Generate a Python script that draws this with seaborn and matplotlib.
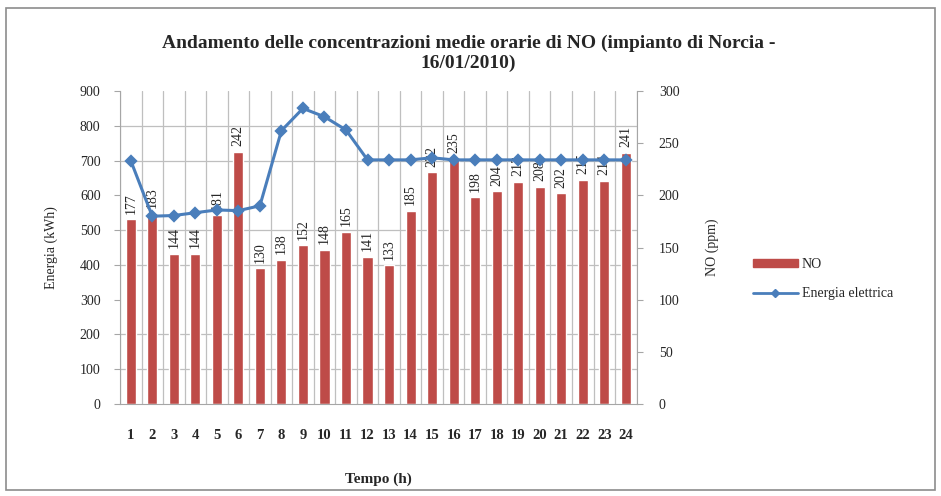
import matplotlib
matplotlib.use("Agg")
import matplotlib.pyplot as plt
import seaborn as sns
import numpy as np
import pandas as pd
from matplotlib.patches import Patch, Rectangle
from matplotlib.lines import Line2D

ore = [str(h) for h in range(1, 25)]
no_ppm = [177, 183, 144, 144, 181, 242, 130, 138, 152, 148, 165, 141,
          133, 185, 222, 235, 198, 204, 213, 208, 202, 215, 214, 241]
energia = [700, 540, 542, 550, 558, 556, 570, 786, 850, 826, 788, 702,
           702, 702, 708, 702, 702, 702, 702, 702, 702, 702, 702, 702]

df = pd.DataFrame({'ora': ore, 'NO': no_ppm, 'Energia': energia})

sns.set_style('white')
plt.rcParams['font.family'] = ['Liberation Serif', 'DejaVu Serif']

rosso = '#BE4B48'
blu = '#4A7EBB'
grigio = '#A6A6A6'

fig = plt.figure(figsize=(9.41, 4.96), dpi=100)
# cornice del grafico
fig.patches.append(Rectangle((0.006, 0.012), 0.988, 0.972, transform=fig.transFigure,
                             fill=False, edgecolor='#8C8C8C', linewidth=1.2))

ax = fig.add_axes([0.1275, 0.1855, 0.549, 0.631])
ax2 = ax.twinx()

# barre NO sull'asse destro
sns.barplot(data=df, x='ora', y='NO', color=rosso, width=0.47, saturation=1, ax=ax, zorder=2)
ax.set_ylim(0, 300)
ax.set_yticks(np.arange(0, 301, 50))
ax.set_yticks(np.arange(0, 301, 100 / 3), minor=True)
ax.set_xticks(np.arange(-0.5, 24, 1), minor=True)
ax.grid(which='minor', color='#BFBFBF', linewidth=0.9)
ax.grid(which='major', visible=False)
ax.set_axisbelow(True)
ax.set_xlim(-0.5, 23.5)
ax.set_xlabel('Tempo (h)', fontsize=11, fontweight='bold', labelpad=22)
ax.bar_label(ax.containers[0], labels=[str(v) for v in no_ppm], rotation=90,
             padding=4, fontsize=10)
ax.spines['top'].set_visible(False)
for s in ['left', 'right', 'bottom']:
    ax.spines[s].set_color(grigio)

# linea energia sull'asse sinistro
sns.pointplot(data=df, x='ora', y='Energia', color=blu, markers='D', markersize=5,
              linewidth=2.2, errorbar=None, ax=ax2)
ax2.set_ylim(0, 900)
ax2.set_xlim(-0.5, 23.5)
ax2.set_yticks(np.arange(0, 901, 100))
ax2.set_xlabel('')
for s in ax2.spines.values():
    s.set_visible(False)

# assi: NO a destra, energia a sinistra
ax.yaxis.tick_right()
ax.yaxis.set_label_position('right')
ax2.yaxis.tick_left()
ax2.yaxis.set_label_position('left')
ax.tick_params(axis='y', which='major', direction='out', length=4, color=grigio,
               labelsize=10, pad=12, left=False, labelleft=False, right=True, labelright=True)
ax.tick_params(axis='y', which='minor', length=0, left=False, right=False)
ax.tick_params(axis='x', which='major', length=0, labelsize=10.5, pad=18)
ax.tick_params(axis='x', which='minor', direction='out', length=3, color=grigio)
for lab in ax.get_xticklabels():
    lab.set_fontweight('bold')
ax2.tick_params(axis='y', direction='out', length=4, color=grigio, labelsize=10, pad=10,
                right=False, labelright=False, left=True, labelleft=True)
ax.set_ylabel('NO (ppm)', fontsize=10, labelpad=19)
ax2.set_ylabel('Energia (kWh)', fontsize=10, labelpad=16)

fig.text(0.498, 0.893, 'Andamento delle concentrazioni medie orarie di NO (impianto di Norcia -\n16/01/2010)',
         ha='center', va='center', fontsize=14, fontweight='bold', linespacing=1.2)

handles = [Patch(color=rosso, label='NO'),
           Line2D([0], [0], color=blu, marker='D', markersize=4, linewidth=2, label='Energia elettrica')]
fig.legend(handles=handles, loc='center left', bbox_to_anchor=(0.787, 0.4375), frameon=False,
           fontsize=10, handlelength=3.2, handleheight=0.5, labelspacing=1.2, handletextpad=0.3)

plt.savefig('out.png', dpi=100)
